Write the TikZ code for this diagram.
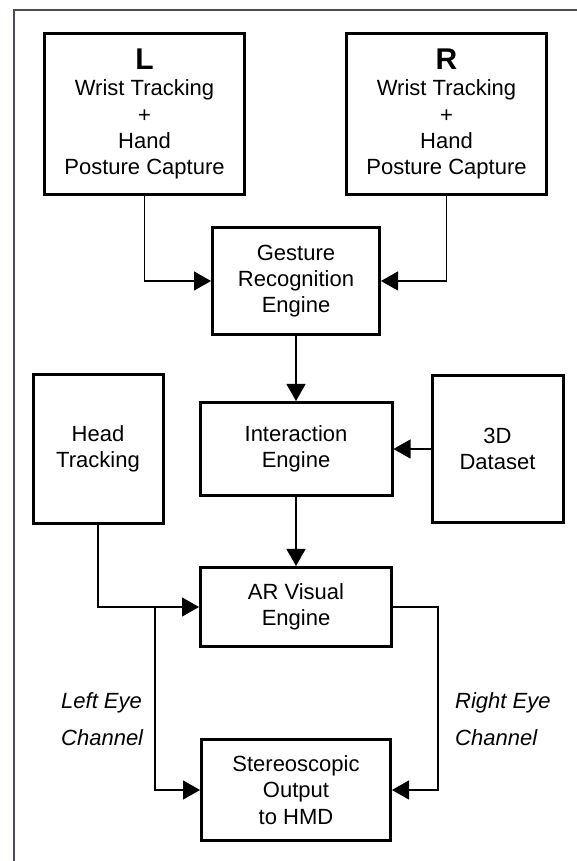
\documentclass[tikz,border=0pt]{standalone}
\usepackage{fontspec}
\setmainfont{Liberation Sans}
\usetikzlibrary{arrows.meta,positioning}
\definecolor{framegray}{RGB}{70,78,88}
\begin{document}
\begin{tikzpicture}[x=1pt,y=1pt,>={Triangle[length=17pt,width=19pt]},
  every node/.style={font=\fontsize{22}{26.3}\selectfont,align=center},
  blk/.style={draw,line width=3pt,fill=white,inner sep=0pt},
  link/.style={->,line width=1.2pt},
  eyelbl/.style={anchor=west,inner sep=0pt,align=left,font=\itshape\fontsize{22}{37}\selectfont}]
\useasboundingbox (0,0) rectangle (577,861);
\draw[framegray,line width=1.5pt] (14,-5) |- (590,851);
\node[blk,minimum width=200pt,minimum height=161pt] (lhand) at (144.5,747) {{\fontsize{30}{30}\selectfont\bfseries L}\\Wrist Tracking\\+\\Hand\\Posture Capture};
\node[blk,minimum width=200pt,minimum height=161pt,right=99pt of lhand] (rhand) {{\fontsize{30}{30}\selectfont\bfseries R}\\Wrist Tracking\\+\\Hand\\Posture Capture};
\node[blk,minimum width=167pt,minimum height=107pt] (gesture) at (296,580) {Gesture\\Recognition\\Engine};
\node[blk,minimum width=192pt,minimum height=93pt,below=65pt of gesture] (interact) {Interaction\\Engine};
\node[blk,minimum width=130pt,minimum height=149pt,left=34pt of interact] (headtrk) {Head\\Tracking};
\node[blk,minimum width=131pt,minimum height=147pt,right=37pt of interact] (dataset) {3D\\Dataset};
\node[blk,minimum width=191pt,minimum height=79pt,below=69pt of interact] (arvis) {AR Visual\\Engine};
\node[blk,minimum width=189pt,minimum height=101pt,below=90pt of arvis] (stereo) {Stereoscopic\\Output\\to HMD};
\node[eyelbl] (leftlbl) at (61,142) {Left Eye\\Channel};
\node[eyelbl] (rightlbl) at (455,142) {Right Eye\\Channel};
\draw[link] (lhand.south) |- (gesture.west);
\draw[link] (rhand.south) |- (gesture.east);
\draw[link] (gesture) -- (interact);
\draw[link] (dataset) -- (interact);
\draw[link] (interact) -- (arvis);
\draw[link] (headtrk.south) |- (arvis.west);
\path (arvis.west) ++(-44,0) coordinate (lsplit);
\draw[link] (lsplit) |- (stereo.west);
\draw[link] (arvis.east) -- ++(45,0) |- (stereo.east);
\end{tikzpicture}
\end{document}
